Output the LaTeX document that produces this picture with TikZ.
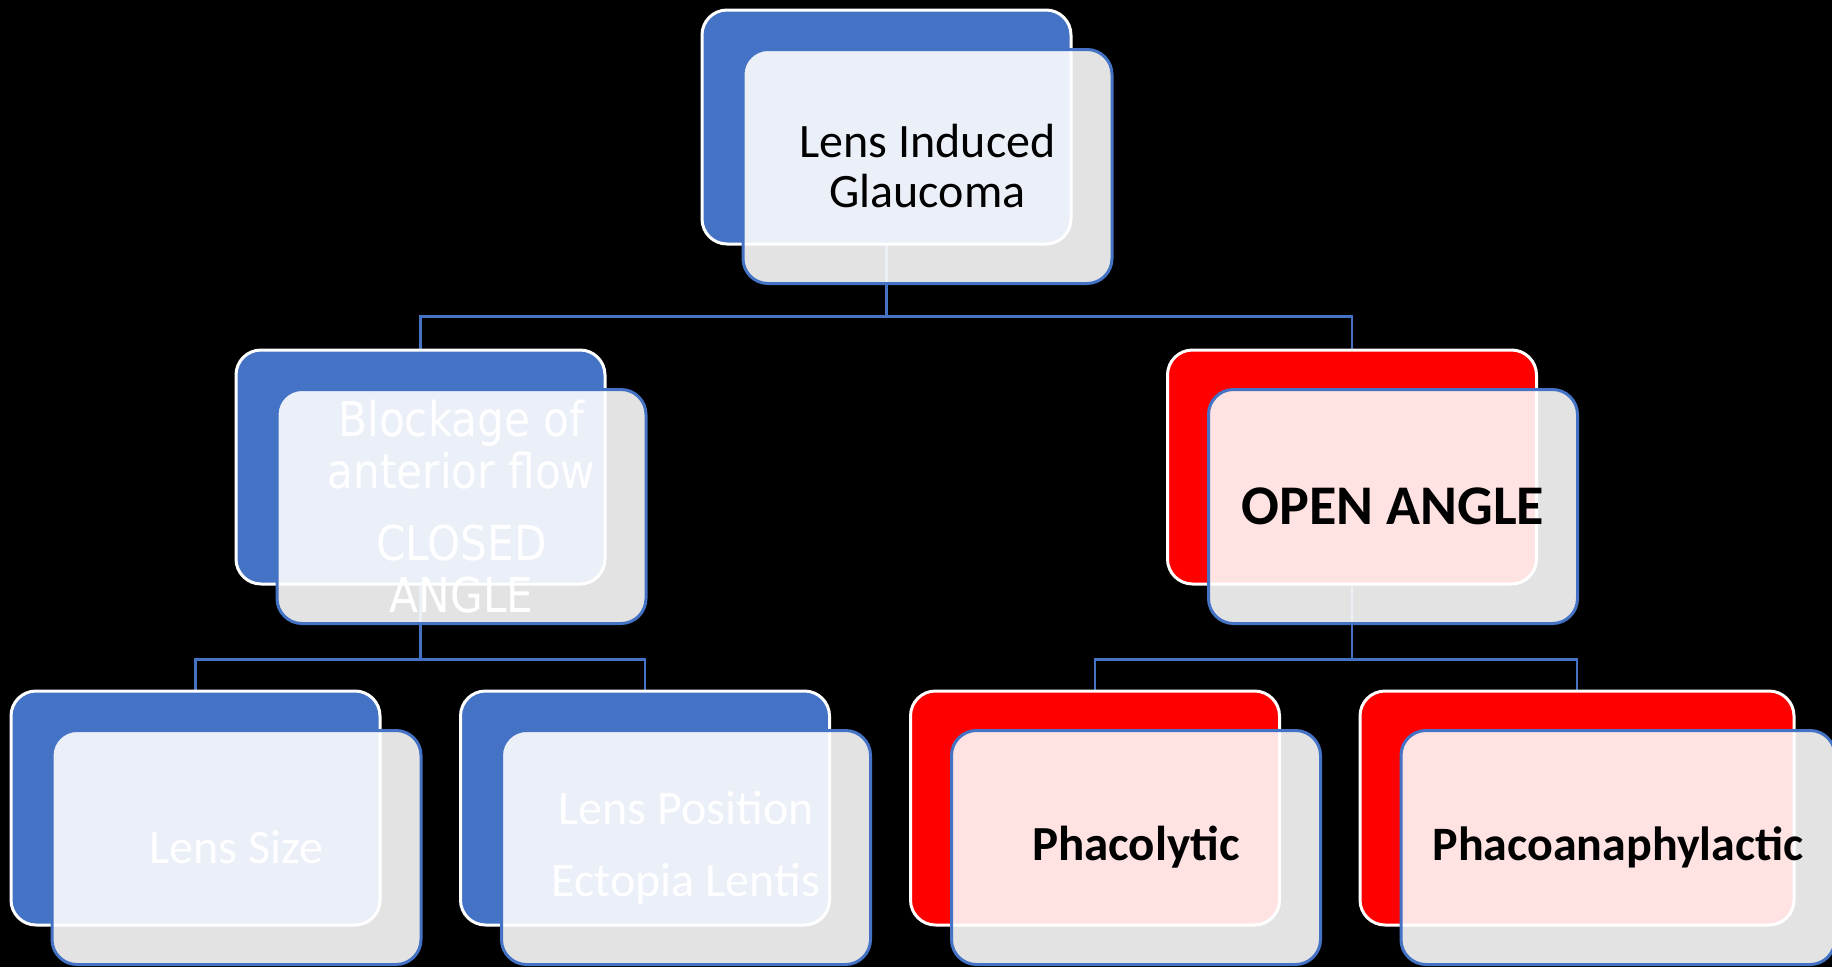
\documentclass[tikz,border=0pt]{standalone}
\usepackage{fontspec}
\setmainfont{Carlito}
\newfontfamily\sidefont[FakeStretch=0.88]{DejaVu Sans}
\usetikzlibrary{backgrounds,math}
\definecolor{boxblue}{HTML}{4472C4}
\definecolor{boxred}{HTML}{FF0000}
\tikzset{
  backbox/.style={draw=white, line width=3pt, rounded corners=25pt, inner sep=0pt,
    minimum width=369pt, minimum height=234pt},
  blueback/.style={backbox, fill=boxblue},
  redback/.style={backbox, fill=boxred},
  frontbox/.style={draw=boxblue, line width=3pt, rounded corners=25pt, inner sep=0pt,
    minimum width=369pt, minimum height=234pt, fill=white, fill opacity=0.89,
    text opacity=1, align=center, font=\fontsize{48}{50}\selectfont},
  link/.style={draw=boxblue, line width=2.5pt}
}

\begin{document}
\begin{tikzpicture}[x=1pt, y=-1pt]
  \tikzmath{\dx = 41; \dy = 39.5;}
  \useasboundingbox (0,0) rectangle (1832,967);
  \begin{scope}[on background layer]
    \fill[black] (0,0) rectangle (1832,967);
  \end{scope}

  % back boxes
  \node[blueback] (lig) at (886.5,127) {};
  \node[blueback] (closed) at (420.5,467) {};
  \node[redback] (open) at (1352,467) {};
  \node[blueback] (size) at (195.5,808) {};
  \node[blueback] (pos) at (645,808) {};
  \node[redback] (lytic) at (1095,808) {};
  \node[redback, minimum width=434pt] (anaph) at (1577,808) {};

  % front boxes with text
  \node[frontbox] (ligf) at ([shift={(\dx,\dy)}]lig.center) {Lens Induced\\Glaucoma};
  \node[frontbox, text=white, font=\sidefont\fontsize{48}{52}\selectfont] (closedf)
    at ([shift={(\dx,\dy)}]closed.center) {Blockage of\\anterior flow\\[20pt]CLOSED\\ANGLE};
  \node[frontbox, font=\fontsize{56}{60}\bfseries\selectfont] (openf)
    at ([shift={(\dx,\dy)}]open.center) {OPEN ANGLE};
  \node[frontbox, text=white] (sizef) at ([shift={(\dx,\dy)}]size.center) {Lens Size};
  \node[frontbox, text=white] (posf) at ([shift={(\dx,\dy)}]pos.center)
    {Lens Position\\[22pt]Ectopia Lentis};
  \node[frontbox, font=\fontsize{49}{50}\bfseries\selectfont] (lyticf)
    at ([shift={(\dx,\dy)}]lytic.center) {Phacolytic};
  \node[frontbox, minimum width=434pt, font=\fontsize{48}{50}\bfseries\selectfont] (anaphf)
    at ([shift={(\dx,\dy)}]anaph.center) {Phacoanaphylactic};

  % connectors behind the boxes
  \begin{scope}[on background layer]
    \draw[link] (lig.south) -- ++(0,71) -| (closed.north);
    \draw[link] (lig.south) -- ++(0,71) -| (open.north);
    \draw[link] (closed.south) -- ++(0,74) -| (size.north);
    \draw[link] (closed.south) -- ++(0,74) -| (pos.north);
    \draw[link] (open.south) -- ++(0,74) -| (lytic.north);
    \draw[link] (open.south) -- ++(0,74) -| (anaph.north);
  \end{scope}
\end{tikzpicture}
\end{document}
